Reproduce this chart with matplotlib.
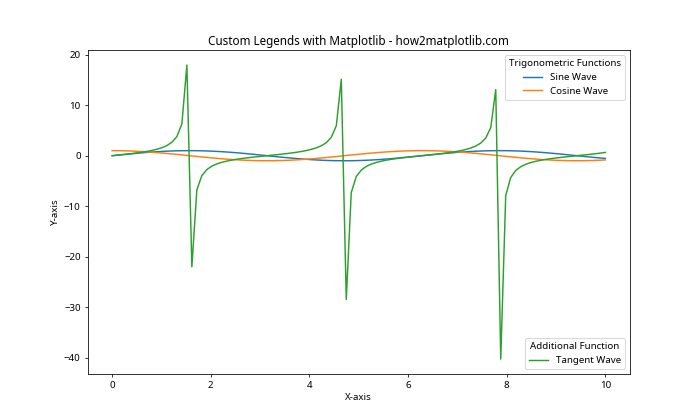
import matplotlib
matplotlib.use('Agg')
import matplotlib.pyplot as plt

plt.rcParams['font.family'] = ['Noto Sans', 'DejaVu Sans']

# x positions (0 to 10, 100 samples) and the three curves
x = [0.0, 0.101, 0.202, 0.303, 0.404, 0.505, 0.606, 0.707, 0.808, 0.909,
     1.010, 1.111, 1.212, 1.313, 1.414, 1.515, 1.616, 1.717, 1.818, 1.919,
     2.020, 2.121, 2.222, 2.323, 2.424, 2.525, 2.626, 2.727, 2.828, 2.929,
     3.030, 3.131, 3.232, 3.333, 3.434, 3.535, 3.636, 3.737, 3.838, 3.939,
     4.040, 4.141, 4.242, 4.343, 4.444, 4.545, 4.646, 4.747, 4.848, 4.949,
     5.051, 5.152, 5.253, 5.354, 5.455, 5.556, 5.657, 5.758, 5.859, 5.960,
     6.061, 6.162, 6.263, 6.364, 6.465, 6.566, 6.667, 6.768, 6.869, 6.970,
     7.071, 7.172, 7.273, 7.374, 7.475, 7.576, 7.677, 7.778, 7.879, 7.980,
     8.081, 8.182, 8.283, 8.384, 8.485, 8.586, 8.687, 8.788, 8.889, 8.990,
     9.091, 9.192, 9.293, 9.394, 9.495, 9.596, 9.697, 9.798, 9.899, 10.0]

sine = [0.0, 0.101, 0.201, 0.298, 0.393, 0.484, 0.570, 0.650, 0.723, 0.789,
        0.847, 0.896, 0.937, 0.967, 0.988, 0.998, 0.999, 0.989, 0.969, 0.940,
        0.901, 0.853, 0.796, 0.731, 0.658, 0.579, 0.494, 0.403, 0.309, 0.211,
        0.111, 0.010, -0.091, -0.191, -0.289, -0.384, -0.475, -0.561, -0.642, -0.716,
        -0.783, -0.843, -0.893, -0.934, -0.966, -0.986, -0.998, -0.999, -0.991, -0.972,
        -0.942, -0.904, -0.857, -0.801, -0.737, -0.665, -0.586, -0.501, -0.411, -0.317,
        -0.220, -0.120, -0.020, 0.081, 0.181, 0.279, 0.374, 0.466, 0.553, 0.634,
        0.709, 0.777, 0.837, 0.888, 0.930, 0.963, 0.986, 0.999, 1.000, 0.992,
        0.974, 0.947, 0.909, 0.863, 0.807, 0.744, 0.673, 0.594, 0.511, 0.422,
        0.328, 0.231, 0.131, 0.031, -0.070, -0.170, -0.269, -0.364, -0.457, -0.544]

cosine = [1.0, 0.995, 0.980, 0.954, 0.919, 0.875, 0.822, 0.760, 0.691, 0.615,
          0.532, 0.444, 0.351, 0.255, 0.156, 0.056, -0.045, -0.146, -0.245, -0.341,
          -0.434, -0.523, -0.606, -0.683, -0.753, -0.816, -0.870, -0.915, -0.951, -0.978,
          -0.994, -1.000, -0.996, -0.982, -0.958, -0.924, -0.880, -0.828, -0.767, -0.698,
          -0.623, -0.541, -0.453, -0.361, -0.265, -0.166, -0.066, 0.035, 0.136, 0.235,
          0.332, 0.425, 0.514, 0.598, 0.676, 0.747, 0.810, 0.865, 0.911, 0.948,
          0.976, 0.993, 1.000, 0.997, 0.984, 0.960, 0.927, 0.885, 0.834, 0.773,
          0.706, 0.631, 0.549, 0.462, 0.370, 0.275, 0.177, 0.076, -0.025, -0.125,
          -0.225, -0.322, -0.416, -0.506, -0.590, -0.668, -0.740, -0.804, -0.860, -0.907,
          -0.945, -0.973, -0.991, -1.000, -0.998, -0.985, -0.963, -0.931, -0.890, -0.839]

tangent = [0.0, 0.101, 0.205, 0.313, 0.428, 0.553, 0.693, 0.855, 1.046, 1.283,
           1.592, 2.018, 2.668, 3.79, 6.33, 17.95, -22.03, -6.78, -3.96, -2.755,
           -2.075, -1.631, -1.314, -1.071, -0.874, -0.709, -0.568, -0.441, -0.325, -0.216,
           -0.112, -0.010, 0.091, 0.194, 0.301, 0.415, 0.540, 0.678, 0.837, 1.026,
           1.259, 1.559, 1.972, 2.590, 3.648, 5.94, 15.15, -28.49, -7.30, -4.14,
           -2.845, -2.129, -1.667, -1.340, -1.091, -0.892, -0.722, -0.579, -0.451, -0.334,
           -0.225, -0.121, -0.020, 0.081, 0.184, 0.290, 0.404, 0.527, 0.664, 0.820,
           1.005, 1.232, 1.524, 1.924, 2.513, 3.505, 5.58, 13.10, -40.30, -7.90,
           -4.33, -2.940, -2.188, -1.708, -1.370, -1.114, -0.909, -0.737, -0.594, -0.465,
           -0.347, -0.237, -0.132, -0.031, 0.070, 0.173, 0.279, 0.391, 0.514, 0.648]

fig, ax = plt.subplots(figsize=(10, 6), dpi=70)

line1, = ax.plot(x, sine, label='Sine Wave')
line2, = ax.plot(x, cosine, label='Cosine Wave')
line3, = ax.plot(x, tangent, label='Tangent Wave')

# Two separate legends
legend1 = ax.legend(handles=[line1, line2], loc='upper right', title='Trigonometric Functions')
ax.add_artist(legend1)
ax.legend(handles=[line3], loc='lower right', title='Additional Function')

ax.set_title('Custom Legends with Matplotlib - how2matplotlib.com')
ax.set_xlabel('X-axis')
ax.set_ylabel('Y-axis')

plt.savefig('out.png', dpi=70)
